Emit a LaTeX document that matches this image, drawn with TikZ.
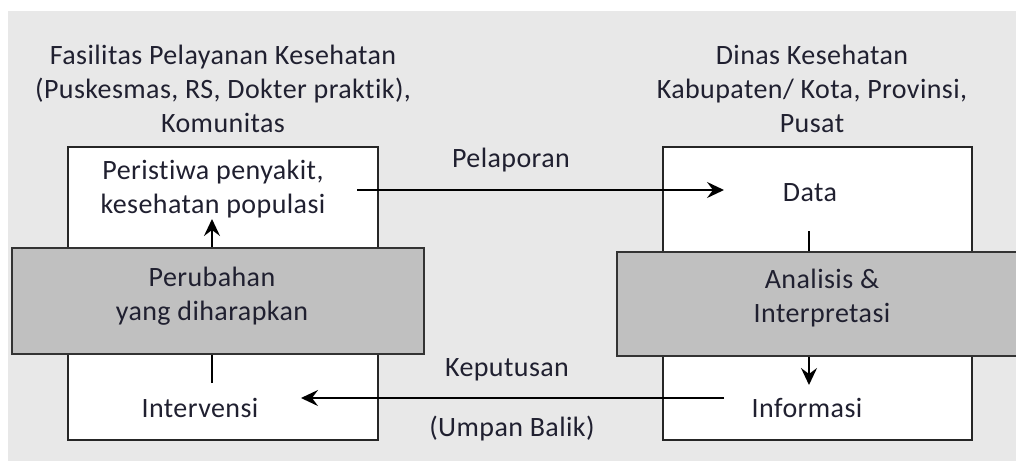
\documentclass[tikz,border=0pt]{standalone}
\usepackage{fontspec}
\setmainfont{Carlito}[Ligatures=NoCommon,LetterSpace=1.5]
\usetikzlibrary{arrows.meta}
\definecolor{bggray}{HTML}{E8E8E8}
\definecolor{boxgray}{HTML}{C0C0C0}
\definecolor{txt}{HTML}{202030}
\begin{document}
\begin{tikzpicture}[x=1pt,y=-1pt,
  lbl/.style={text=txt,font=\fontsize{28}{34}\selectfont,align=center,inner sep=0pt},
  whitebox/.style={draw=black!85,line width=2pt,fill=white},
  graybox/.style={draw=black!80,line width=2pt,fill=boxgray},
  conn/.style={draw=black,line width=2.2pt},
  arr/.style={conn,-{Stealth[length=17pt,width=16pt,inset=6pt]}}]
\useasboundingbox (0,0) rectangle (1016,461);
\fill[white] (0,0) rectangle (1016,461);
\fill[bggray] (8,11) rectangle (1016,461);
% white boxes
\draw[whitebox] (68,147) rectangle (378,440);
\draw[whitebox] (663,147) rectangle (972,440);
% coordinates
\coordinate (intTop) at (212,383);
\coordinate (perBot) at (212,219);
\coordinate (dataBot) at (809,231);
\coordinate (infTop) at (809,385);
\coordinate (pelStart) at (357,190);
\coordinate (pelEnd) at (724,190);
\coordinate (kepStart) at (724,398);
\coordinate (kepEnd) at (301,398);
% vertical arrows
\draw[arr] (intTop) -- (perBot);
\draw[arr] (dataBot) -- (infTop);
% gray boxes
\draw[graybox] (12,248) rectangle (424,354);
\fill[boxgray] (617,252) rectangle (1020,356);
\draw[black!80,line width=2pt] (1020,252) -- (617,252) -- (617,356) -- (1020,356);
% horizontal arrows
\draw[arr] (pelStart) -- (pelEnd);
\draw[arr] (kepStart) -- (kepEnd);
% texts
\node[lbl] (fas) at (223,89) {Fasilitas Pelayanan Kesehatan\\(Puskesmas, RS, Dokter praktik),\\Komunitas};
\node[lbl] (din) at (812,89) {Dinas Kesehatan\\Kabupaten/ Kota, Provinsi,\\Pusat};
\node[lbl] (per) at (213,189) {Peristiwa penyakit,\\kesehatan populasi};
\node[lbl] (data) at (810,193) {Data};
\node[lbl] (perub) at (212,296) {Perubahan\\yang diharapkan};
\node[lbl] (anal) at (822,298) {Analisis \&\\Interpretasi};
\node[lbl] (intv) at (200,408) {Intervensi};
\node[lbl] (info) at (807,408) {Informasi};
\node[lbl] (pel) at (511,160) {Pelaporan};
\node[lbl] (kep) at (507,370) {Keputusan};
\node[lbl] (umb) at (512,429) {(Umpan Balik)};
\end{tikzpicture}
\end{document}
